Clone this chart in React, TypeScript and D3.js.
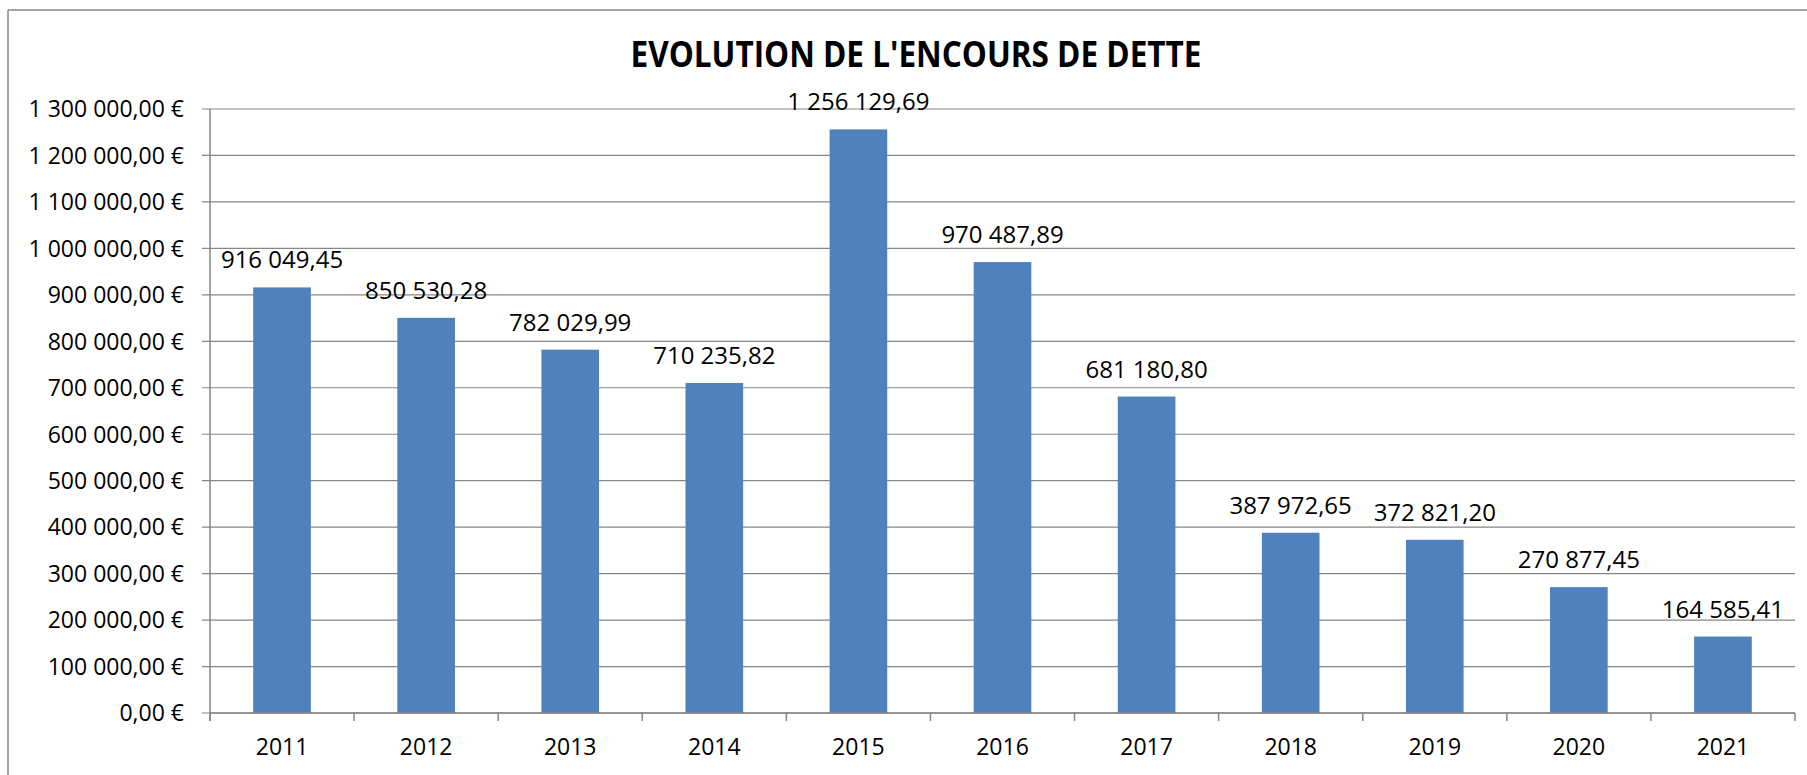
import React from "react";
import * as d3 from "d3";

const years = ["2011", "2012", "2013", "2014", "2015", "2016", "2017", "2018", "2019", "2020", "2021"];
const encours = [
  916049.45, 850530.28, 782029.99, 710235.82, 1256129.69, 970487.89,
  681180.8, 387972.65, 372821.2, 270877.45, 164585.41,
];
const yTicks = d3.range(0, 1300001, 100000);
const title = "EVOLUTION DE L'ENCOURS DE DETTE";

const fr = d3.formatLocale({
  decimal: ",",
  thousands: "\u00a0",
  grouping: [3],
  currency: ["", " €"],
});
const fmt = fr.format(",.2f");

const W = 1807;
const H = 775;
const left = 210;
const right = 1795;
const top = 109;
const bottom = 713;

const FONT = "'Open Sans', 'Noto Sans', sans-serif";
const GRID = "#868686";

const App: React.FC = () => {
  const x = d3
    .scaleBand<string>()
    .domain(years)
    .range([left, right])
    .paddingInner(0.6)
    .paddingOuter(0.3);
  const step = x.step();
  const y = d3.scaleLinear().domain([0, 1300000]).range([bottom, top]);

  // category boundaries for the x axis ticks
  const xTicks = d3.range(years.length + 1).map(i => left + i * step);

  return (
    <svg
      width={W}
      height={H}
      style={{ position: "absolute", left: 0, top: 0, background: "#fff" }}
      fontFamily={FONT}
    >
      {/* chart frame */}
      <line x1={8} y1={10} x2={W} y2={10} stroke={GRID} strokeWidth={1.5} />
      <line x1={8} y1={10} x2={8} y2={H} stroke={GRID} strokeWidth={1.5} />

      <text
        x={916}
        y={67}
        textAnchor="middle"
        fontSize={35}
        fontWeight="bold"
        textLength={571}
        lengthAdjust="spacingAndGlyphs"
      >
        {title}
      </text>

      {/* gridlines + y ticks */}
      {yTicks.map(t => (
        <g key={t}>
          <line x1={left - 8} x2={right} y1={y(t)} y2={y(t)} stroke={GRID} strokeWidth={1.2} />
          <text x={184} y={y(t)} dy="0.36em" textAnchor="end" fontSize={23}>
            {fmt(t)} €
          </text>
        </g>
      ))}

      {/* bars */}
      {years.map((yr, i) => (
        <rect
          key={yr}
          x={x(yr)}
          y={y(encours[i])}
          width={x.bandwidth()}
          height={bottom - y(encours[i])}
          fill="#4F81BD"
        />
      ))}

      {/* data labels */}
      {years.map((yr, i) => (
        <text
          key={yr}
          x={(x(yr) as number) + x.bandwidth() / 2}
          y={y(encours[i]) - 19}
          textAnchor="middle"
          fontSize={24}
        >
          {fmt(encours[i])}
        </text>
      ))}

      {/* axes */}
      <line x1={left} x2={left} y1={top} y2={bottom + 8} stroke={GRID} strokeWidth={1.5} />
      <line x1={left} x2={right} y1={bottom} y2={bottom} stroke={GRID} strokeWidth={1.5} />
      {xTicks.map(t => (
        <line key={t} x1={t} x2={t} y1={bottom} y2={bottom + 8} stroke={GRID} strokeWidth={1.5} />
      ))}
      {years.map(yr => (
        <text
          key={yr}
          x={(x(yr) as number) + x.bandwidth() / 2}
          y={755}
          textAnchor="middle"
          fontSize={23}
        >
          {yr}
        </text>
      ))}
    </svg>
  );
};

export default App;
